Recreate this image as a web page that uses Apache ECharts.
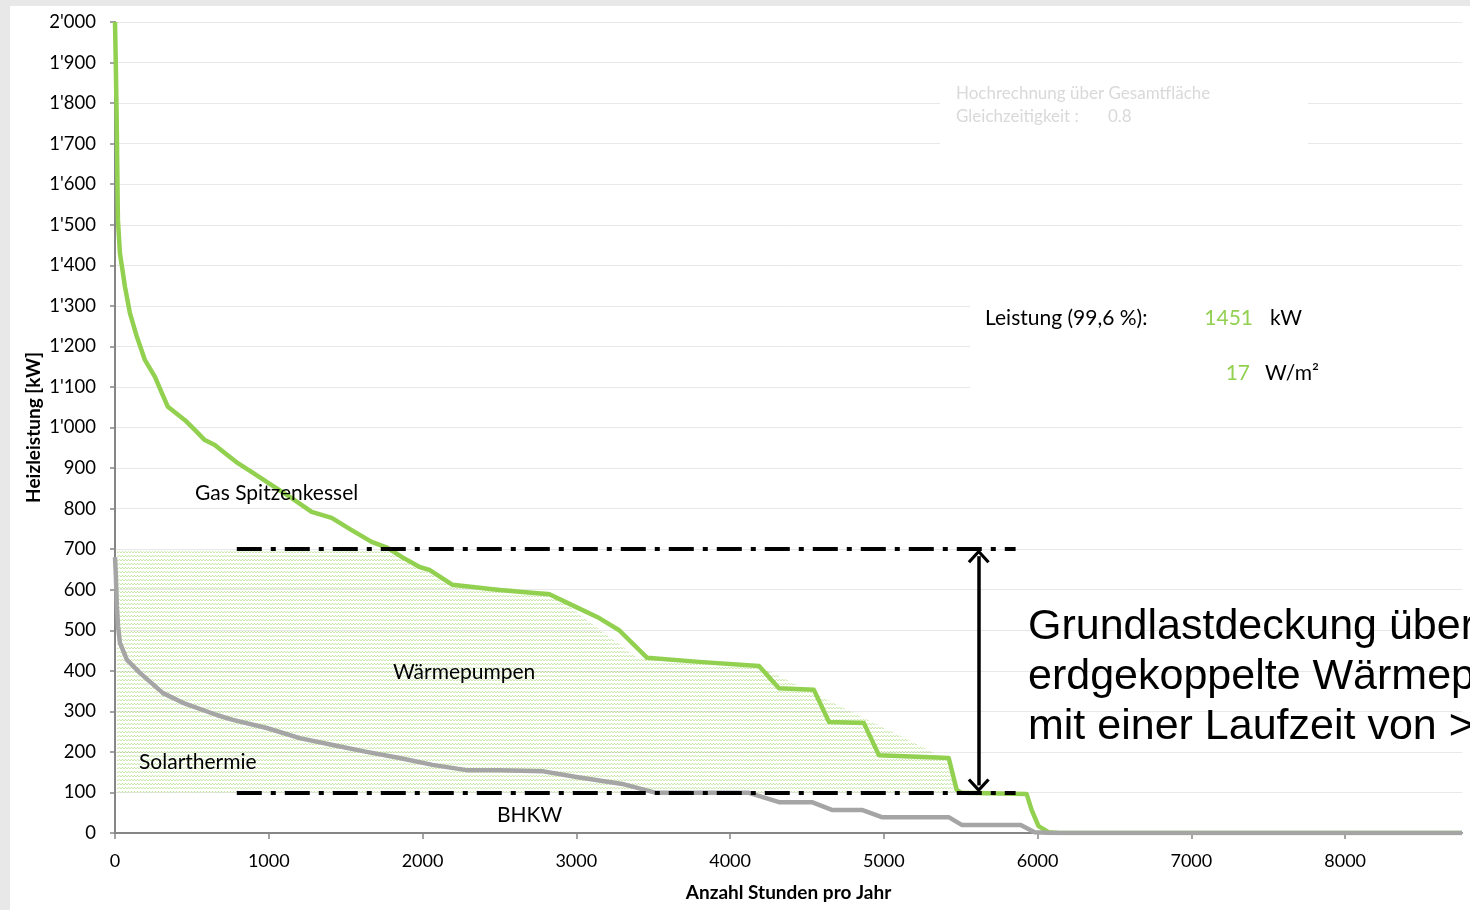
<!DOCTYPE html>
<html>
<head>
<meta charset="utf-8">
<script src="https://cdn.jsdelivr.net/npm/echarts@6/dist/echarts.min.js"></script>
<style>
  html, body { margin: 0; padding: 0; background: #e8e8e8; }
  #chart { position: absolute; left: 10px; top: 6px; width: 1460px; height: 904px; background: #fff; }
</style>
</head>
<body>
<div id="chart"></div>
<script>
// Jahresdauerlinie: Stunden / Leistung [kW]
const gesamtHours = [0, 5, 11, 19, 32, 65, 97, 143, 195, 260, 305, 344, 455, 519, 584, 649, 714, 799, 890, 1019, 1149, 1279, 1409, 1539, 1669, 1773, 1864, 1981, 2045, 2195, 2500, 2825, 3000, 3149, 3279, 3461, 3799, 4188, 4318, 4545, 4643, 4870, 4968, 5422, 5474, 5506, 5929, 5961, 6006, 6071, 6140, 8760];
const gesamtKW = [2000, 1900, 1758, 1512, 1430, 1347, 1282, 1223, 1166, 1125, 1085, 1051, 1018, 994, 969, 957, 937, 912, 890, 858, 826, 792, 777, 747, 718, 703, 681, 656, 649, 612, 599, 589, 557, 530, 500, 432, 422, 412, 357, 353, 274, 271, 192, 185, 106, 99, 96, 57, 17, 2, 0, 0];

const bhkwHours = [0, 5, 12, 20, 32, 78, 162, 312, 442, 662, 766, 987, 1201, 1416, 1636, 1851, 2065, 2286, 2500, 2786, 3000, 3299, 3519, 4123, 4318, 4532, 4662, 4857, 4987, 5422, 5506, 5890, 5981, 6100, 8760];
const bhkwKW = [680, 640, 560, 510, 469, 427, 395, 345, 321, 291, 279, 259, 234, 217, 200, 185, 168, 155, 155, 152, 138, 121, 99, 99, 76, 76, 57, 57, 39, 39, 20, 20, 2, 0, 0];

// schraffierte Fläche Wärmepumpen (Oberkante, Unterkante = 100 kW)
const wpHours = [13, 1780, 1981, 2195, 2825, 3390, 3461, 4188, 5422, 5460];
const wpKW = [695, 695, 660, 615, 595, 434, 432, 412, 180, 100];
const wpBase = 100;

// Grundlast-Band
const grundlastKW = [700, 100];
const grundlastHours = [792, 5857];
const arrowHour = 5617;

const yTicks = { min: 0, max: 2000, interval: 100 };
const xTicks = { min: 0, max: 8760, interval: 1000 };

const green = '#92d050';
const grey = '#a5a5a5';
const axisGrey = '#868686';
const font = 'Lato';

function zip(xs, ys) { return xs.map((x, i) => [x, ys[i]]); }

function fmtKW(v) {
  if (v >= 1000) return Math.floor(v / 1000) + "'" + String(v % 1000).padStart(3, '0');
  return String(v);
}

// kleines Wellenmuster für die Schraffur
const pat = document.createElement('canvas');
pat.width = 6; pat.height = 4;
const pc = pat.getContext('2d');
pc.strokeStyle = 'rgba(146,208,80,0.5)';
pc.lineWidth = 0.9;
pc.beginPath();
pc.moveTo(0, 3); pc.lineTo(1.5, 1.2); pc.lineTo(3, 3); pc.lineTo(4.5, 1.2); pc.lineTo(6, 3);
pc.stroke();

// offene Pfeilspitze, Spitze oben
const chevron = 'path://M0,12 L11,0 L22,12 L19.6,14 L11,4.6 L2.4,14 Z';
const chevronSize = [22, 14];
// Spitze soll genau auf der Linie sitzen (Symbol ist zentriert): halbe Symbolhöhe in kW
const tipShift = 7 / 0.4055;

function label(text, x, y, size, color, align) {
  return {
    type: 'text', z: 60, x: x, y: y,
    style: { text: text, fontFamily: font, fontSize: size, fill: color || '#000', align: align || 'left', verticalAlign: 'middle' }
  };
}

const myChart = echarts.init(document.getElementById('chart'));

const option = {
  animation: false,
  backgroundColor: '#fff',
  grid: { left: 105, right: 8, top: 16, bottom: 77 },
  xAxis: {
    type: 'value',
    min: xTicks.min,
    max: xTicks.max,
    interval: xTicks.interval,
    name: 'Anzahl Stunden pro Jahr',
    nameLocation: 'middle',
    nameGap: 50,
    nameMoveOverlap: false,
    nameTextStyle: { fontFamily: font, fontWeight: 'bold', fontSize: 19, color: '#000' },
    axisLine: { lineStyle: { color: axisGrey, width: 2 } },
    axisTick: { show: true, length: 6, lineStyle: { color: axisGrey, width: 1.5 } },
    axisLabel: { showMaxLabel: false, margin: 19, fontFamily: font, fontSize: 18, color: '#000', formatter: v => String(v) },
    splitLine: { show: false }
  },
  yAxis: {
    type: 'value',
    min: yTicks.min,
    max: yTicks.max,
    interval: yTicks.interval,
    name: 'Heizleistung [kW]',
    nameLocation: 'middle',
    nameGap: 72,
    nameMoveOverlap: false,
    nameTextStyle: { fontFamily: font, fontWeight: 'bold', fontSize: 19, color: '#000' },
    axisLine: { show: true, lineStyle: { color: axisGrey, width: 2 } },
    axisTick: { show: true, length: 5, lineStyle: { color: axisGrey, width: 1.5 } },
    axisLabel: { margin: 19, fontFamily: font, fontSize: 18.5, color: '#000', formatter: fmtKW },
    splitLine: { lineStyle: { color: '#e8e8e8', width: 1 } }
  },
  series: [
    {
      name: 'Wärmepumpen',
      type: 'line',
      data: zip(wpHours, wpKW),
      showSymbol: false,
      silent: true,
      lineStyle: { width: 0, opacity: 0 },
      areaStyle: { origin: wpBase, color: { image: pat, repeat: 'repeat' }, opacity: 1 },
      z: 1,
      markLine: {
        silent: true,
        symbol: 'none',
        label: { show: false },
        lineStyle: { color: '#000', width: 4, type: [25, 9, 5, 9] },
        data: [
          [{ coord: [grundlastHours[0], grundlastKW[0]] }, { coord: [grundlastHours[1], grundlastKW[0]] }],
          [{ coord: [grundlastHours[0], grundlastKW[1]] }, { coord: [grundlastHours[1], grundlastKW[1]] }]
        ]
      }
    },
    {
      name: 'Gesamt',
      type: 'line',
      data: zip(gesamtHours, gesamtKW),
      showSymbol: false,
      silent: true,
      lineStyle: { color: green, width: 4.5, join: 'round' },
      z: 3,
      markLine: {
        silent: true,
        symbol: [chevron, chevron],
        symbolSize: chevronSize,
        label: { show: false },
        lineStyle: { color: '#000', width: 3.5, type: 'solid' },
        data: [
          [{ coord: [arrowHour, grundlastKW[0] - tipShift] }, { coord: [arrowHour, grundlastKW[1] + tipShift] }]
        ]
      }
    },
    {
      name: 'BHKW',
      type: 'line',
      data: zip(bhkwHours, bhkwKW),
      showSymbol: false,
      silent: true,
      lineStyle: { color: grey, width: 4.5, join: 'round' },
      z: 4
    }
  ],
  graphic: [
    { type: 'rect', z: 50, shape: { x: 930, y: 72, width: 368, height: 72 }, style: { fill: '#fff' } },
    { type: 'rect', z: 50, shape: { x: 960, y: 279, width: 500, height: 122 }, style: { fill: '#fff' } },
    label('Hochrechnung über Gesamtfläche', 946, 88, 17, '#d9d9d9'),
    label('Gleichzeitigkeit :', 946, 111, 17, '#d9d9d9'),
    label('0.8', 1098, 111, 17, '#d9d9d9'),
    label('Leistung (99,6 %):', 975, 312, 21, '#000'),
    label('1451', 1243, 312, 21, green, 'right'),
    label('kW', 1260, 312, 21, '#000'),
    label('17', 1240, 367, 21, green, 'right'),
    label('W/m²', 1255, 367, 21, '#000'),
    label('Gas Spitzenkessel', 185, 487, 21, '#000'),
    label('Wärmepumpen', 383, 666, 21, '#000'),
    label('Solarthermie', 129, 756, 21, '#000'),
    label('BHKW', 487, 809, 21, '#000'),
    { type: 'text', z: 60, left: 1018, top: 596, style: { text: 'Grundlastdeckung über\nerdgekoppelte Wärmep\nmit einer Laufzeit von >', fontFamily: 'Liberation Sans', fontSize: 43, lineHeight: 50, fill: '#000' } }
  ]
};

myChart.setOption(option);
</script>
</body>
</html>
